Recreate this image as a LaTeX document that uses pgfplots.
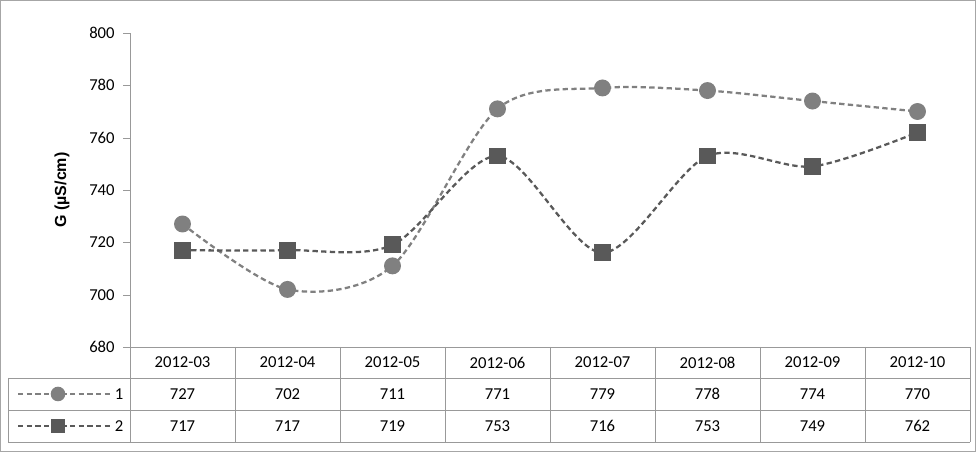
\documentclass[border=0pt]{standalone}
\usepackage{pgfplots}
\pgfplotsset{compat=1.18}
\usepackage{fontspec}
\setmainfont{Carlito}
\newfontfamily\arialb{Liberation Sans}
\definecolor{cA}{HTML}{808080}
\definecolor{cB}{HTML}{595959}
\tikzset{dd/.style={line width=1.7pt,dash pattern=on 4pt off 2.5pt}}
\begin{document}
\begin{tikzpicture}
\begin{scope}[x=0.75pt,y=-0.75pt,yshift=339pt]
\useasboundingbox (0,0) rectangle (976,452);
\draw[gray!70] (0.5,0.5) rectangle (975.5,451.5);
\end{scope}
\begin{axis}[at={(97.5pt,78.75pt)},anchor=south west,scale only axis,
 width=630pt,height=235.5pt,xmin=-0.5,xmax=7.5,ymin=680,ymax=800,
 ytick={680,700,...,800},xtick=\empty,
 axis x line*=bottom, axis y line*=left,
 axis line style={gray!80},y axis line style={-},x axis line style={-},
 ytick style={gray!80},tick align=outside,major tick length=5pt,
 yticklabel style={font=\fontsize{12.5}{12}\selectfont,xshift=-3pt},
 /pgf/number format/assume math mode=true,
 ylabel={\arialb\bfseries G (µS/cm)},ylabel style={font=\fontsize{12}{12}\selectfont,yshift=8pt},
 clip=false]
\addplot[cA,dd,smooth,tension=0.5,mark=*,mark size=5.5pt,mark options={solid,fill=cA,draw=cA}]
 coordinates {(0,727)(1,702)(2,711)(3,771)(4,779)(5,778)(6,774)(7,770)};
\addplot[cB,dd,smooth,tension=0.5,mark=square*,mark size=5.5pt,mark options={solid,fill=cB,draw=cB}]
 coordinates {(0,717)(1,717)(2,719)(3,753)(4,716)(5,753)(6,749)(7,762)};
\end{axis}
\begin{scope}[x=0.75pt,y=-0.75pt,yshift=339pt,font=\fontsize{12.5}{12}\selectfont]
\draw[gray!80] (130,347)--(970,347);
\foreach \yy in {378,410,442} \draw[gray!80] (8,\yy)--(970,\yy);
\draw[gray!80] (8,378)--(8,442);
\foreach \k in {0,...,8} \draw[gray!80] ({130+105*\k},347)--({130+105*\k},442);
\foreach \lab [count=\i from 0] in {2012-03,2012-04,2012-05,2012-06,2012-07,2012-08,2012-09,2012-10}
  \node at ({182.5+105*\i},362.5) {\lab};
\foreach \v [count=\i from 0] in {727,702,711,771,779,778,774,770}
  \node at ({182.5+105*\i},394) {\v};
\foreach \v [count=\i from 0] in {717,717,719,753,716,753,749,762}
  \node at ({182.5+105*\i},426) {\v};
\draw[cA,dd] (18,394)--(112,394);
\fill[cA] (58,394) circle (7.3);
\node[fill=white,inner sep=1pt] at (119,394) {1};
\draw[cB,dd] (18,426)--(112,426);
\fill[cB] (51,419) rectangle (65,433);
\node[fill=white,inner sep=1pt] at (119,426) {2};
\end{scope}
\end{tikzpicture}
\end{document}
